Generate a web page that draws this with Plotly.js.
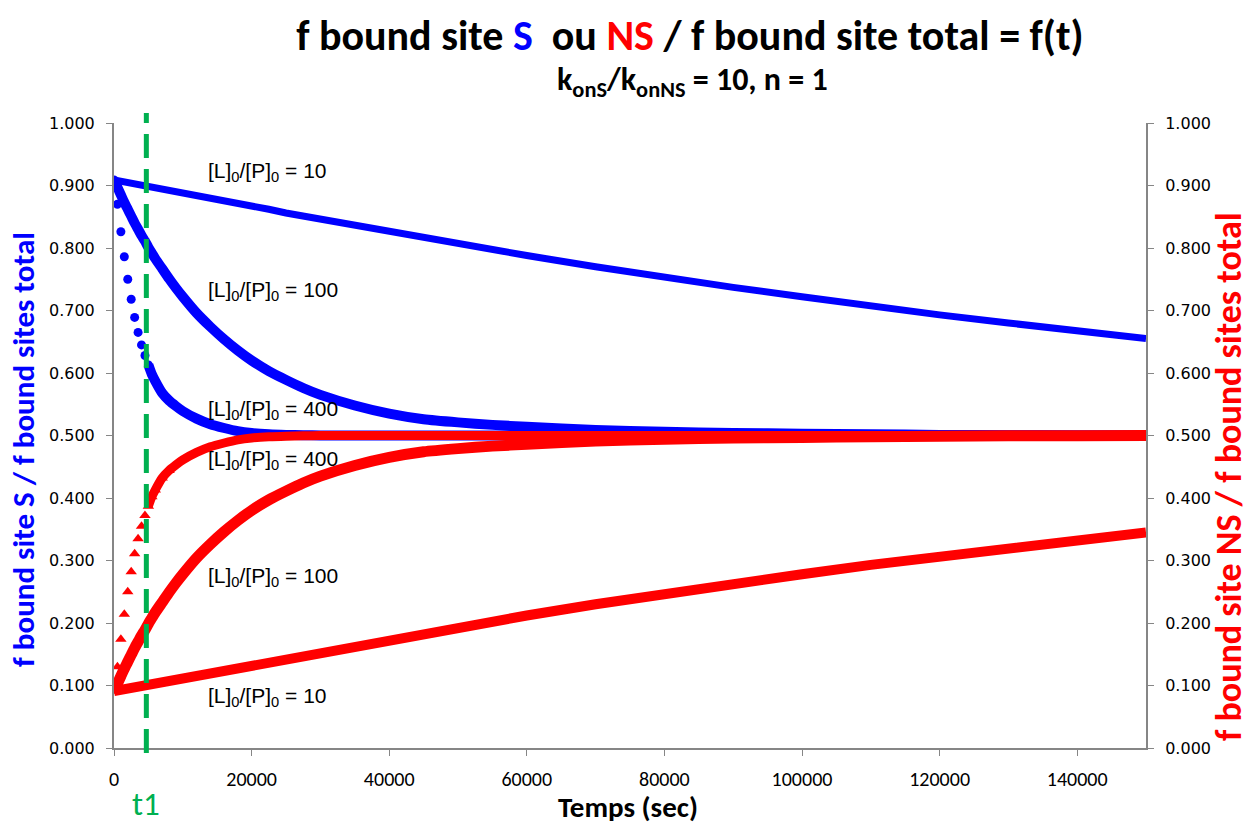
<!DOCTYPE html>
<html>
<head>
<meta charset="utf-8">
<script src="https://cdn.plot.ly/plotly-3.0.1.min.js"></script>
<style>html,body{margin:0;padding:0;background:#fff;}#chart{width:1252px;height:827px;}</style>
</head>
<body>
<div id="chart"></div>
<script>
// time (sec)
const time = [0,500,1000,1500,2000,2500,3000,3500,4000,4500,5000,5500,6000,
  7000,8000,9000,10000,12000,14000,16000,18000,20000,22500,25000,27500,30000,
  35000,40000,45000,50000,55000,60000,70000,80000,90000,100000,110000,120000,130000,140000,150000];

// f bound site S / f bound sites total  ([L]0/[P]0 = 10, 100, 400)
const blueS10 = [0.909,0.908,0.907,0.906,0.905,0.904,0.903,0.902,0.901,0.900,0.899,0.898,0.897,
  0.895,0.893,0.891,0.889,0.884,0.880,0.876,0.871,0.867,0.862,0.856,0.851,0.846,
  0.836,0.826,0.816,0.806,0.797,0.788,0.770,0.753,0.737,0.722,0.707,0.693,0.680,0.667,0.655];
const blueS100 = [0.909,0.897,0.885,0.873,0.862,0.851,0.840,0.830,0.820,0.811,0.801,0.792,0.783,
  0.767,0.751,0.736,0.722,0.696,0.674,0.654,0.636,0.620,0.603,0.589,0.576,0.565,
  0.548,0.535,0.526,0.521,0.517,0.514,0.509,0.506,0.504,0.503,0.502,0.501,0.5005,0.5002,0.500];
const blueS400 = [0.909,0.870,0.826,0.786,0.750,0.718,0.689,0.665,0.645,0.628,0.613,0.598,0.587,
  0.568,0.556,0.547,0.539,0.527,0.518,0.512,0.507,0.504,0.502,0.501,0.5005,0.500,
  0.500,0.500,0.500,0.500,0.500,0.500,0.500,0.500,0.500,0.500,0.500,0.500,0.500,0.500,0.500];

// f bound site NS / f bound sites total
const redNS10 = [0.091,0.092,0.093,0.094,0.095,0.096,0.097,0.098,0.099,0.100,0.101,0.102,0.103,
  0.105,0.107,0.109,0.111,0.116,0.120,0.124,0.129,0.133,0.138,0.144,0.149,0.154,
  0.164,0.174,0.184,0.194,0.203,0.212,0.230,0.247,0.263,0.278,0.293,0.307,0.320,0.333,0.345];
const redNS100 = [0.091,0.103,0.115,0.127,0.138,0.149,0.160,0.170,0.180,0.189,0.199,0.208,0.217,
  0.233,0.249,0.264,0.278,0.304,0.326,0.346,0.364,0.380,0.397,0.411,0.424,0.435,
  0.452,0.465,0.474,0.479,0.483,0.486,0.491,0.494,0.496,0.497,0.498,0.499,0.4995,0.4998,0.500];
const redNS400 = [0.091,0.130,0.174,0.214,0.250,0.282,0.311,0.335,0.355,0.372,0.387,0.402,0.413,
  0.432,0.444,0.453,0.461,0.473,0.482,0.488,0.493,0.496,0.498,0.499,0.4995,0.500,
  0.500,0.500,0.500,0.500,0.500,0.500,0.500,0.500,0.500,0.500,0.500,0.500,0.500,0.500,0.500];

const t1 = 4700;
const labels = [
  {y:0.922, text:'[L]<sub>0</sub>/[P]<sub>0</sub> = 10'},
  {y:0.731, text:'[L]<sub>0</sub>/[P]<sub>0</sub> = 100'},
  {y:0.541, text:'[L]<sub>0</sub>/[P]<sub>0</sub> = 400'},
  {y:0.461, text:'[L]<sub>0</sub>/[P]<sub>0</sub> = 400'},
  {y:0.274, text:'[L]<sub>0</sub>/[P]<sub>0</sub> = 100'},
  {y:0.082, text:'[L]<sub>0</sub>/[P]<sub>0</sub> = 10'}
];
const labelX = 13400;

const BLUE = '#0000FF', RED = '#FF0000', GREEN = '#00B050', AX = '#868686';
const nM = 14, nL = 10;

const traces = [
  {x: time, y: blueS10, mode:'lines', line:{color:BLUE, width:7}, yaxis:'y'},
  {x: time, y: blueS100, mode:'lines', line:{color:BLUE, width:10, shape:'spline', smoothing:0.6}, yaxis:'y'},
  {x: time.slice(nL), y: blueS400.slice(nL), mode:'lines', line:{color:BLUE, width:10, shape:'spline', smoothing:0.6}, yaxis:'y'},
  {x: time.slice(0,nM), y: blueS400.slice(0,nM), mode:'markers', marker:{color:BLUE, size:9, symbol:'circle'}, yaxis:'y'},
  {x: time, y: redNS10, mode:'lines', line:{color:RED, width:10}, yaxis:'y2'},
  {x: time, y: redNS100, mode:'lines', line:{color:RED, width:11, shape:'spline', smoothing:0.6}, yaxis:'y2'},
  {x: time.slice(nL), y: redNS400.slice(nL), mode:'lines', line:{color:RED, width:9, shape:'spline', smoothing:0.6}, yaxis:'y2'},
  {x: time.slice(0,nM+1), y: redNS400.slice(0,nM+1), mode:'markers', marker:{color:RED, size:10, symbol:'triangle-up'}, yaxis:'y2'}
];
traces.forEach(t => { t.type = 'scatter'; t.hoverinfo = 'skip'; t.cliponaxis = true; });

const TITLE_FONT = 'Carlito, Lato, sans-serif';
const annotations = labels.map(l => ({
  x: labelX, y: l.y, xref:'x', yref:'y', text: l.text, showarrow:false,
  xanchor:'left', yanchor:'middle', font:{family:'Liberation Sans, Arial, sans-serif', size:21, color:'#000'}
}));
annotations.push(
  {xref:'paper', yref:'paper', x:0.561, y:1.0656, text:'<b>k<sub>onS</sub>/k<sub>onNS</sub> = 10, n = 1</b>',
   showarrow:false, xanchor:'center', yanchor:'middle', font:{family:TITLE_FONT, size:32, color:'#000'}},
  {xref:'paper', yref:'paper', x:-0.0882, y:0.4784, text:'<b>f bound site S / f bound sites total</b>',
   textangle:-90, showarrow:false, xanchor:'center', yanchor:'middle', font:{family:TITLE_FONT, size:31, color:BLUE}},
  {xref:'paper', yref:'paper', x:1.0805, y:0.4336, text:'<b>f bound site NS / f bound sites total</b>',
   textangle:-90, showarrow:false, xanchor:'center', yanchor:'middle', font:{family:TITLE_FONT, size:36, color:RED}},
  {xref:'paper', yref:'paper', x:0.498, y:-0.094, text:'<b>Temps (sec)</b>',
   showarrow:false, xanchor:'center', yanchor:'middle', font:{family:TITLE_FONT, size:29, color:'#000'}},
  {xref:'x', yref:'paper', x:t1, y:-0.09, text:'t1',
   showarrow:false, xanchor:'center', yanchor:'middle', font:{family:TITLE_FONT, size:33, color:GREEN}}
);

const yTicks = {
  range:[0,1], tickvals:[0,0.1,0.2,0.3,0.4,0.5,0.6,0.7,0.8,0.9,1.0], tickformat:'.3f',
  showgrid:false, zeroline:false, showline:true, linecolor:AX, linewidth:2,
  ticks:'outside', ticklen:6, tickcolor:AX, tickwidth:1, ticklabelstandoff:8,
  tickfont:{family:'DejaVu Sans, Verdana, sans-serif', size:16, color:'#000'}, fixedrange:true
};

const layout = {
  width:1252, height:827,
  margin:{l:114, r:106, t:123, b:79},
  paper_bgcolor:'#fff', plot_bgcolor:'#fff',
  showlegend:false,
  title:{text:'<b>f bound site <span style="color:#0000FF">S</span>&nbsp; ou <span style="color:#FF0000">NS</span> / f bound site total = f(t)</b>',
    x:0.558, xref:'paper', xanchor:'center', y:0.9577, yref:'container', yanchor:'middle',
    font:{family:TITLE_FONT, size:42, color:'#000'}},
  xaxis:{range:[0,150000], tickvals:[0,20000,40000,60000,80000,100000,120000,140000], tickformat:'d',
    showgrid:false, zeroline:false, showline:true, linecolor:AX, linewidth:2,
    ticks:'outside', ticklen:6, tickcolor:AX, tickwidth:1, ticklabelstandoff:6,
    tickfont:{family:'Carlito, Lato, sans-serif', size:20, color:'#000'}, fixedrange:true},
  yaxis: Object.assign({side:'left'}, yTicks),
  yaxis2: Object.assign({side:'right', overlaying:'y'}, yTicks),
  shapes:[{type:'line', xref:'x', yref:'paper', x0:t1, x1:t1, y0:-0.008, y1:1.016,
    line:{color:GREEN, width:5, dash:'24px,11px'}}],
  annotations: annotations
};

Plotly.newPlot('chart', traces, layout, {staticPlot:true, displayModeBar:false});
</script>
</body>
</html>
